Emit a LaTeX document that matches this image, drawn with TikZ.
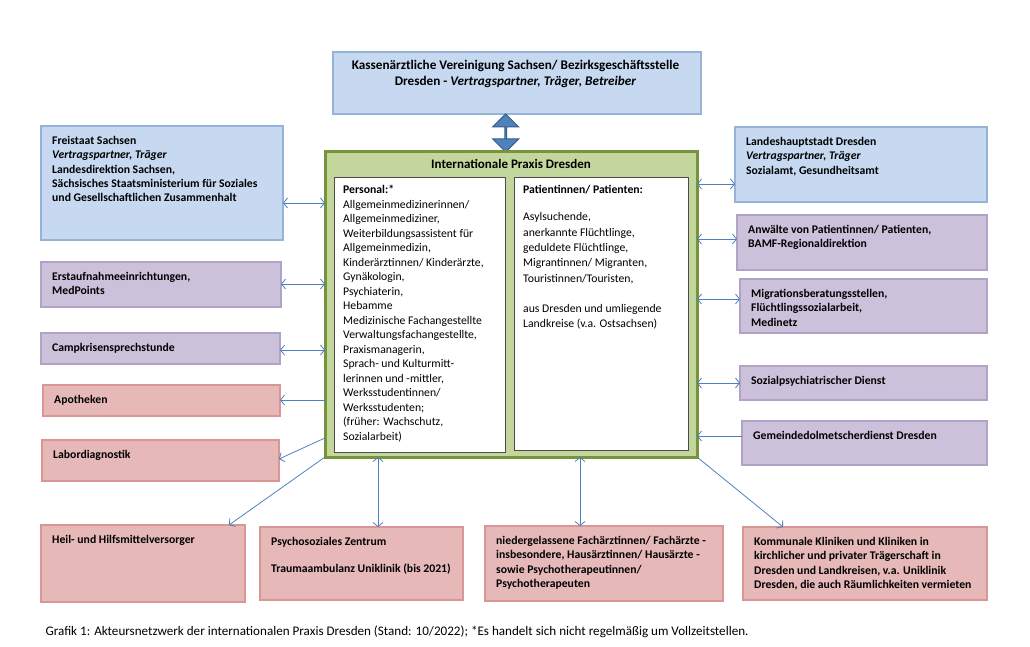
\documentclass[tikz,border=0pt]{standalone}
\usepackage{fontspec}
\setmainfont{Carlito}
\usetikzlibrary{shapes.arrows,arrows.meta,positioning}
\definecolor{blaufill}{HTML}{C6D9F1}
\definecolor{blaurand}{HTML}{95B3D7}
\definecolor{lilafill}{HTML}{CCC1DA}
\definecolor{lilarand}{HTML}{B3A2C7}
\definecolor{rosafill}{HTML}{E6B9B8}
\definecolor{rosarand}{HTML}{D99694}
\definecolor{gruenfill}{HTML}{C3D69B}
\definecolor{gruenrand}{HTML}{77933C}
\definecolor{pfeilblau}{HTML}{4F81BD}
\definecolor{pfeilrand}{HTML}{385D8A}
\tikzset{>={Straight Barb[length=4pt,width=10pt]}}
\tikzset{
	blaubox/.style={draw=blaurand, fill=blaufill, line width=2.2pt, outer sep=0pt},
	lilabox/.style={draw=lilarand, fill=lilafill, line width=2.2pt, outer sep=0pt},
	rosabox/.style={draw=rosarand, fill=rosafill, line width=2.2pt, outer sep=0pt},
	praxisbox/.style={draw=gruenrand, fill=gruenfill, line width=3pt, outer sep=0pt},
	innenbox/.style={draw=black!70, fill=white, line width=0.7pt, outer sep=0pt},
	boxtext/.style={font=\fontsize{11.7}{14.4}\selectfont\bfseries, align=left, inner sep=0pt},
	innentext/.style={font=\fontsize{11.7}{14.5}\selectfont, align=left, inner sep=0pt},
	link/.style={draw=pfeilblau, line width=0.8pt},
}
\newcommand{\drawKasten}[7] {
	\node[#2, minimum width=#5pt, minimum height=#6pt, anchor=north west]
		(#1) at (#3,#4) {};
	\node[boxtext, anchor=north west] (#1-text)
		at ([xshift=11pt,yshift=-9.9pt]#1.north west) {#7};
}

\begin{document}
\begin{tikzpicture}[x=1pt,y=-1pt]
	\useasboundingbox (0,0) rectangle (1030,647);

	% Kassenaerztliche Vereinigung oben
	\node[blaubox, minimum width=368pt, minimum height=62pt, anchor=north west]
		(kv) at (333,52) {};
	\node[font=\fontsize{13.2}{15.7}\selectfont\bfseries, align=center, inner sep=0pt]
		(kv-text) at (515.5,74)
		{Kassenärztliche Vereinigung Sachsen/ Bezirksgeschäftsstelle\\
		 Dresden - \textit{Vertragspartner, Träger, Betreiber}};
	\node[double arrow, rotate=90, fill=pfeilblau, draw=pfeilrand, line width=1pt,
		minimum height=38pt, minimum width=26pt, double arrow head extend=7pt,
		inner sep=0pt] (dpfeil) at (505.7,133) {};

	% Praxis in der Mitte
	\node[praxisbox, minimum width=372pt, minimum height=305pt, anchor=north west]
		(praxis) at (325,152) {};
	\node[font=\fontsize{13}{15.4}\selectfont\bfseries] (praxis-titel)
		at (511,164) {Internationale Praxis Dresden};
	\node[innenbox, minimum width=171pt, minimum height=275pt, anchor=north west]
		(personal) at (334,177) {};
	\node[innenbox, minimum width=174pt, minimum height=273pt, anchor=north west]
		(patienten) at (514,177) {};
	\node[innentext, anchor=north west] (personal-text)
		at ([xshift=9pt,yshift=-8pt]personal.north west)
		{\textbf{Personal:*}\\ Allgemeinmedizinerinnen/\\ Allgemeinmediziner,\\
		 Weiterbildungsassistent für\\ Allgemeinmedizin,\\
		 Kinderärztinnen/ Kinderärzte,\\ Gynäkologin,\\ Psychiaterin,\\ Hebamme\\
		 Medizinische Fachangestellte\\ Verwaltungsfachangestellte,\\
		 Praxismanagerin,\\ Sprach- und Kulturmitt-\\ lerinnen und -mittler,\\
		 Werksstudentinnen/\\ Werksstudenten;\\ (früher: Wachschutz,\\ Sozialarbeit)};
	\node[innentext, font=\fontsize{11.7}{15.3}\selectfont, anchor=north west]
		(patienten-text) at ([xshift=9pt,yshift=-8pt]patienten.north west)
		{\textbf{Patientinnen/ Patienten:}\\[12.1pt] Asylsuchende,\\
		 anerkannte Flüchtlinge,\\ geduldete Flüchtlinge,\\
		 Migrantinnen/ Migranten,\\ Touristinnen/Touristen,\\[15.3pt]
		 aus Dresden und umliegende\\ Landkreise (v.a. Ostsachsen)};

	% Partner links
	\drawKasten{frei}{blaubox}{41}{126}{242}{114}{Freistaat Sachsen\\
		\textit{Vertragspartner, Träger}\\ Landesdirektion Sachsen,\\
		Sächsisches Staatsministerium für Soziales\\
		und Gesellschaftlichen Zusammenhalt}
	\drawKasten{erst}{lilabox}{41}{262}{240}{45}{Erstaufnahmeeinrichtungen,\\ MedPoints}
	\drawKasten{camp}{lilabox}{41}{333}{239}{31}{Campkrisensprechstunde}
	\drawKasten{apo}{rosabox}{43}{385}{237}{31}{Apotheken}
	\drawKasten{labor}{rosabox}{42}{440}{237}{41}{Labordiagnostik}
	\drawKasten{heil}{rosabox}{41}{525}{204}{77}{Heil- und Hilfsmittelversorger}

	% Partner unten
	\drawKasten{psz}{rosabox}{260}{527}{203}{73}{Psychosoziales Zentrum\\[12.6pt]
		Traumaambulanz Uniklinik (bis 2021)}
	\drawKasten{nieder}{rosabox}{485}{526}{238}{75}{niedergelassene Fachärztinnen/ Fachärzte -\\
		insbesondere, Hausärztinnen/ Hausärzte -\\ sowie Psychotherapeutinnen/\\
		Psychotherapeuten}
	\drawKasten{komm}{rosabox}{743}{527}{244}{73}{Kommunale Kliniken und Kliniken in\\
		kirchlicher und privater Trägerschaft in\\
		Dresden und Landkreisen, v.a. Uniklinik\\
		Dresden, die auch Räumlichkeiten vermieten}

	% Partner rechts
	\drawKasten{landes}{blaubox}{735}{127}{252}{75}{Landeshauptstadt Dresden\\
		\textit{Vertragspartner, Träger}\\ Sozialamt, Gesundheitsamt}
	\drawKasten{anw}{lilabox}{737}{215}{250}{55}{Anwälte von Patientinnen/ Patienten,\\
		BAMF-Regionaldirektion}
	\drawKasten{migr}{lilabox}{740}{279}{247}{54}{Migrationsberatungsstellen,\\
		Flüchtlingssozialarbeit,\\ Medinetz}
	\drawKasten{sozial}{lilabox}{740}{366}{247}{34}{Sozialpsychiatrischer Dienst}
	\drawKasten{gemeinde}{lilabox}{742}{421}{245}{44}{Gemeindedolmetscherdienst Dresden}

	% Verbindungen
	\draw[link,<->] (frei.east |- 0,203) -- (praxis.west |- 0,203);
	\draw[link,<->] (erst.east |- 0,284) -- (praxis.west |- 0,284);
	\draw[link,<->] (camp.east |- 0,350) -- (praxis.west |- 0,350);
	\draw[link,->] (praxis.west |- 0,400) -- (apo.east |- 0,400);
	\draw[link,->] (praxis.west |- 0,438) -- (labor.east |- 0,459);
	\draw[link,->] (praxis.south west) -- (heil.north -| 229,0);
	\draw[link,<->] (praxis.south -| 378,0) -- (psz.north -| 378,0);
	\draw[link,<->] (praxis.south -| 580,0) -- (nieder.north -| 580,0);
	\draw[link,->] (praxis.south east) -- (komm.north -| 783,0);
	\draw[link,<->] (praxis.east |- 0,184) -- (landes.west |- 0,184);
	\draw[link,<->] (praxis.east |- 0,239) -- (anw.west |- 0,239);
	\draw[link,<->] (praxis.east |- 0,299) -- (migr.west |- 0,299);
	\draw[link,<->] (praxis.east |- 0,383) -- (sozial.west |- 0,383);
	\draw[link,->] (gemeinde.west |- 0,436) -- (praxis.east |- 0,436);

	\node[font=\fontsize{13.1}{16}\selectfont, anchor=west] (grafik) at (42,632)
		{Grafik 1: Akteursnetzwerk der internationalen Praxis Dresden (Stand: 10/2022);
		 *Es handelt sich nicht regelmäßig um Vollzeitstellen.};
\end{tikzpicture}
\end{document}
